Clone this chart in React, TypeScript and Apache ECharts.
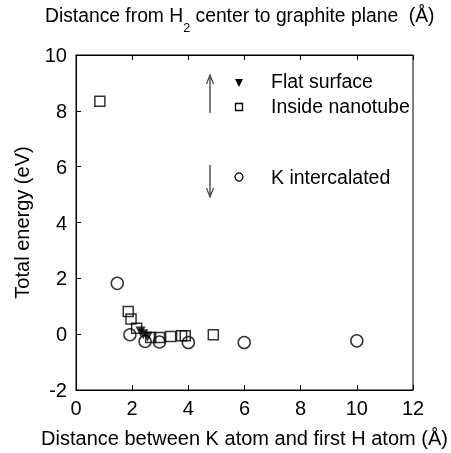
import React, { useEffect, useRef } from "react";
import * as echarts from "echarts";

const xTicks = [0, 2, 4, 6, 8, 10, 12];
const yTicks = [-2, 0, 2, 4, 6, 8, 10];

const flatX = [2.3, 2.4, 2.55];
const flatY = [0.1, 0.0, -0.08];

const nanoX = [0.85, 1.86, 1.96, 2.16, 2.66, 2.97, 3.37, 3.76, 3.89, 4.89];
const nanoY = [8.34, 0.81, 0.54, 0.21, -0.12, -0.12, -0.08, -0.06, -0.06, -0.02];

const kX = [1.47, 1.92, 2.46, 2.97, 4.0, 5.99, 10.0];
const kY = [1.82, -0.02, -0.26, -0.28, -0.3, -0.3, -0.24];

const legendNames = ["Flat surface", "Inside nanotube", "K intercalated"];
const titleTop = ["Distance from H", "2", " center to graphite plane  (Å)"];
const xTitle = "Distance between K atom and first H atom (Å)";
const yTitle = "Total energy (eV)";

const FONT = "Liberation Sans, Arial, Helvetica, sans-serif";

export default function App() {
  const ref = useRef<HTMLDivElement>(null);
  useEffect(() => {
    if (!ref.current) return;
    const chart = echarts.init(ref.current, null, { renderer: "svg" });
    const pair = (xs: number[], ys: number[]) => xs.map((x, i) => [x, ys[i]]);
    const arrow = (x: number, y1: number, y2: number, up: boolean) => {
      const tip = up ? y1 : y2;
      const d = up ? 9 : -9;
      return [
        { type: "line", shape: { x1: x, y1, x2: x, y2 }, style: { stroke: "#444", lineWidth: 1.4 } },
        {
          type: "polyline",
          shape: { points: [[x - 3.5, tip + d], [x, tip], [x + 3.5, tip + d]] },
          style: { stroke: "#444", lineWidth: 1.2, fill: null },
        },
      ];
    };
    const txt = (x: number, y: number, text: string) => ({
      type: "text",
      x,
      y,
      style: { text, fontSize: 19.5, fontFamily: FONT, fill: "#000", verticalAlign: "middle" },
    });
    chart.setOption({
      animation: false,
      grid: { left: 76, right: 38, top: 55, bottom: 61, show: true, borderColor: "#000", borderWidth: 1 },
      xAxis: [
        {
          type: "value",
          min: xTicks[0],
          max: xTicks[xTicks.length - 1],
          interval: 2,
          position: "bottom",
          axisLine: { show: true, onZero: false, lineStyle: { color: "#000" } },
          axisTick: { inside: true, length: 5, lineStyle: { color: "#000" } },
          axisLabel: { color: "#000", fontSize: 20, fontFamily: FONT, margin: 8 },
          splitLine: { show: false },
          name: xTitle,
          nameLocation: "middle",
          nameGap: 38,
          nameTextStyle: { color: "#000", fontSize: 20, fontFamily: FONT },
        },
        {
          type: "value",
          min: xTicks[0],
          max: xTicks[xTicks.length - 1],
          interval: 2,
          position: "top",
          axisLine: { show: true, onZero: false, lineStyle: { color: "#000" } },
          axisTick: { inside: true, length: 5, lineStyle: { color: "#000" } },
          axisLabel: { show: false },
          splitLine: { show: false },
        },
      ],
      yAxis: {
        type: "value",
        min: yTicks[0],
        max: yTicks[yTicks.length - 1],
        interval: 2,
        axisLine: { show: true, onZero: false, lineStyle: { color: "#000" } },
        axisTick: { show: true, inside: true, length: 5, lineStyle: { color: "#000" } },
        axisLabel: { color: "#000", fontSize: 20, fontFamily: FONT, margin: 9 },
        splitLine: { show: false },
        name: yTitle,
        nameLocation: "middle",
        nameGap: 44,
        nameTextStyle: { color: "#000", fontSize: 20, fontFamily: FONT },
      },
      series: [
        {
          name: legendNames[0],
          type: "scatter",
          data: pair(flatX, flatY),
          symbol: "triangle",
          symbolRotate: 180,
          symbolSize: 10,
          itemStyle: { color: "#000" },
          z: 3,
        },
        {
          name: legendNames[1],
          type: "scatter",
          data: pair(nanoX, nanoY),
          symbol: "rect",
          symbolSize: 10,
          itemStyle: { color: "rgba(255,255,255,0)", borderColor: "#000", borderWidth: 1.5 },
          z: 4,
        },
        {
          name: legendNames[2],
          type: "scatter",
          data: pair(kX, kY),
          symbol: "circle",
          symbolSize: 12,
          itemStyle: { color: "rgba(255,255,255,0)", borderColor: "#000", borderWidth: 1.5 },
          z: 5,
        },
      ],
      graphic: [
        {
          type: "text",
          x: 45,
          y: 20,
          style: {
            text: `{a|${titleTop[0]}}{s|${titleTop[1]}}{a|${titleTop[2]}}`,
            fontFamily: FONT,
            verticalAlign: "middle",
            rich: {
              a: { fontSize: 19.3, fontFamily: FONT, fill: "#000", lineHeight: 24, verticalAlign: "top" },
              s: { fontSize: 12.5, fontFamily: FONT, fill: "#000", lineHeight: 28, verticalAlign: "bottom" },
            },
          },
        },
        ...arrow(210, 75, 113, true),
        ...arrow(210, 165, 197, false),
        {
          type: "polygon",
          shape: { points: [[235, 79], [243, 79], [239, 87]] },
          style: { fill: "#000" },
        },
        { type: "rect", shape: { x: 235.5, y: 103.5, width: 7, height: 7 }, style: { fill: null, stroke: "#000", lineWidth: 1.3 } },
        { type: "circle", shape: { cx: 239, cy: 177, r: 4 }, style: { fill: null, stroke: "#000", lineWidth: 1.3 } },
        txt(271, 81, legendNames[0]),
        txt(271, 106, legendNames[1]),
        txt(271, 177, legendNames[2]),
      ],
    });
    return () => chart.dispose();
  }, []);
  return <div ref={ref} style={{ position: "fixed", left: 0, top: 0, width: 451, height: 453 }} />;
}
